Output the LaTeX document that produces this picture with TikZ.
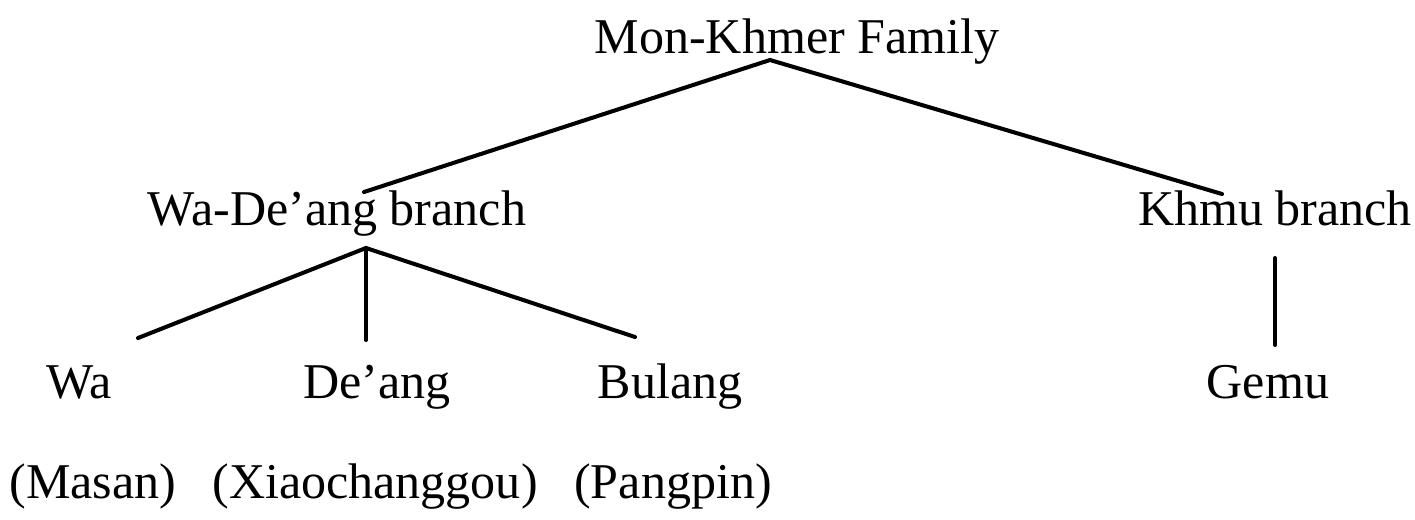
\documentclass[tikz,border=0pt]{standalone}
\usepackage{fontspec}
\setmainfont{Liberation Serif}

\begin{document}
\begin{tikzpicture}[x=0.02cm,y=-0.02cm]
    \tikzstyle{lang}=[anchor=base,inner sep=0pt,font=\fontsize{28.5}{34}\selectfont]
    \tikzstyle{branch}=[line width=2.3pt,line cap=round]
    \useasboundingbox (0,0) rectangle (1415,520);

    % names
    \node[lang] (family) at (797,54) {Mon-Khmer Family};
    \node[lang] (wadeang) at (337,225) {Wa-De'ang branch};
    \node[lang] (khmu) at (1275,225) {Khmu branch};
    \node[lang] (wa) at (79,398) {Wa};
    \node[lang] (deang) at (377,398) {De'ang};
    \node[lang] (bulang) at (670,398) {Bulang};
    \node[lang] (gemu) at (1268,398) {Gemu};
    \node[lang] (masan) at (93,498) {(Masan)};
    \node[lang] (xiao) at (375,498) {(Xiaochanggou)};
    \node[lang] (pangpin) at (673,498) {(Pangpin)};

    % line ends
    \coordinate (famjoin) at (770,60);
    \coordinate (wadeangup) at (364,192);
    \coordinate (khmuup) at (1222,194);
    \coordinate (wadeangjoin) at (366,248);
    \coordinate (waup) at (138,338);
    \coordinate (deangup) at (366,340);
    \coordinate (bulangup) at (635,337);
    \coordinate (khmujoin) at (1275,258);
    \coordinate (gemuup) at (1275,345);

    \draw[branch] (wadeangup) -- (famjoin) -- (khmuup);
    \draw[branch] (waup) -- (wadeangjoin) -- (bulangup);
    \draw[branch] (wadeangjoin) -- (deangup);
    \draw[branch] (khmujoin) -- (gemuup);
\end{tikzpicture}
\end{document}
